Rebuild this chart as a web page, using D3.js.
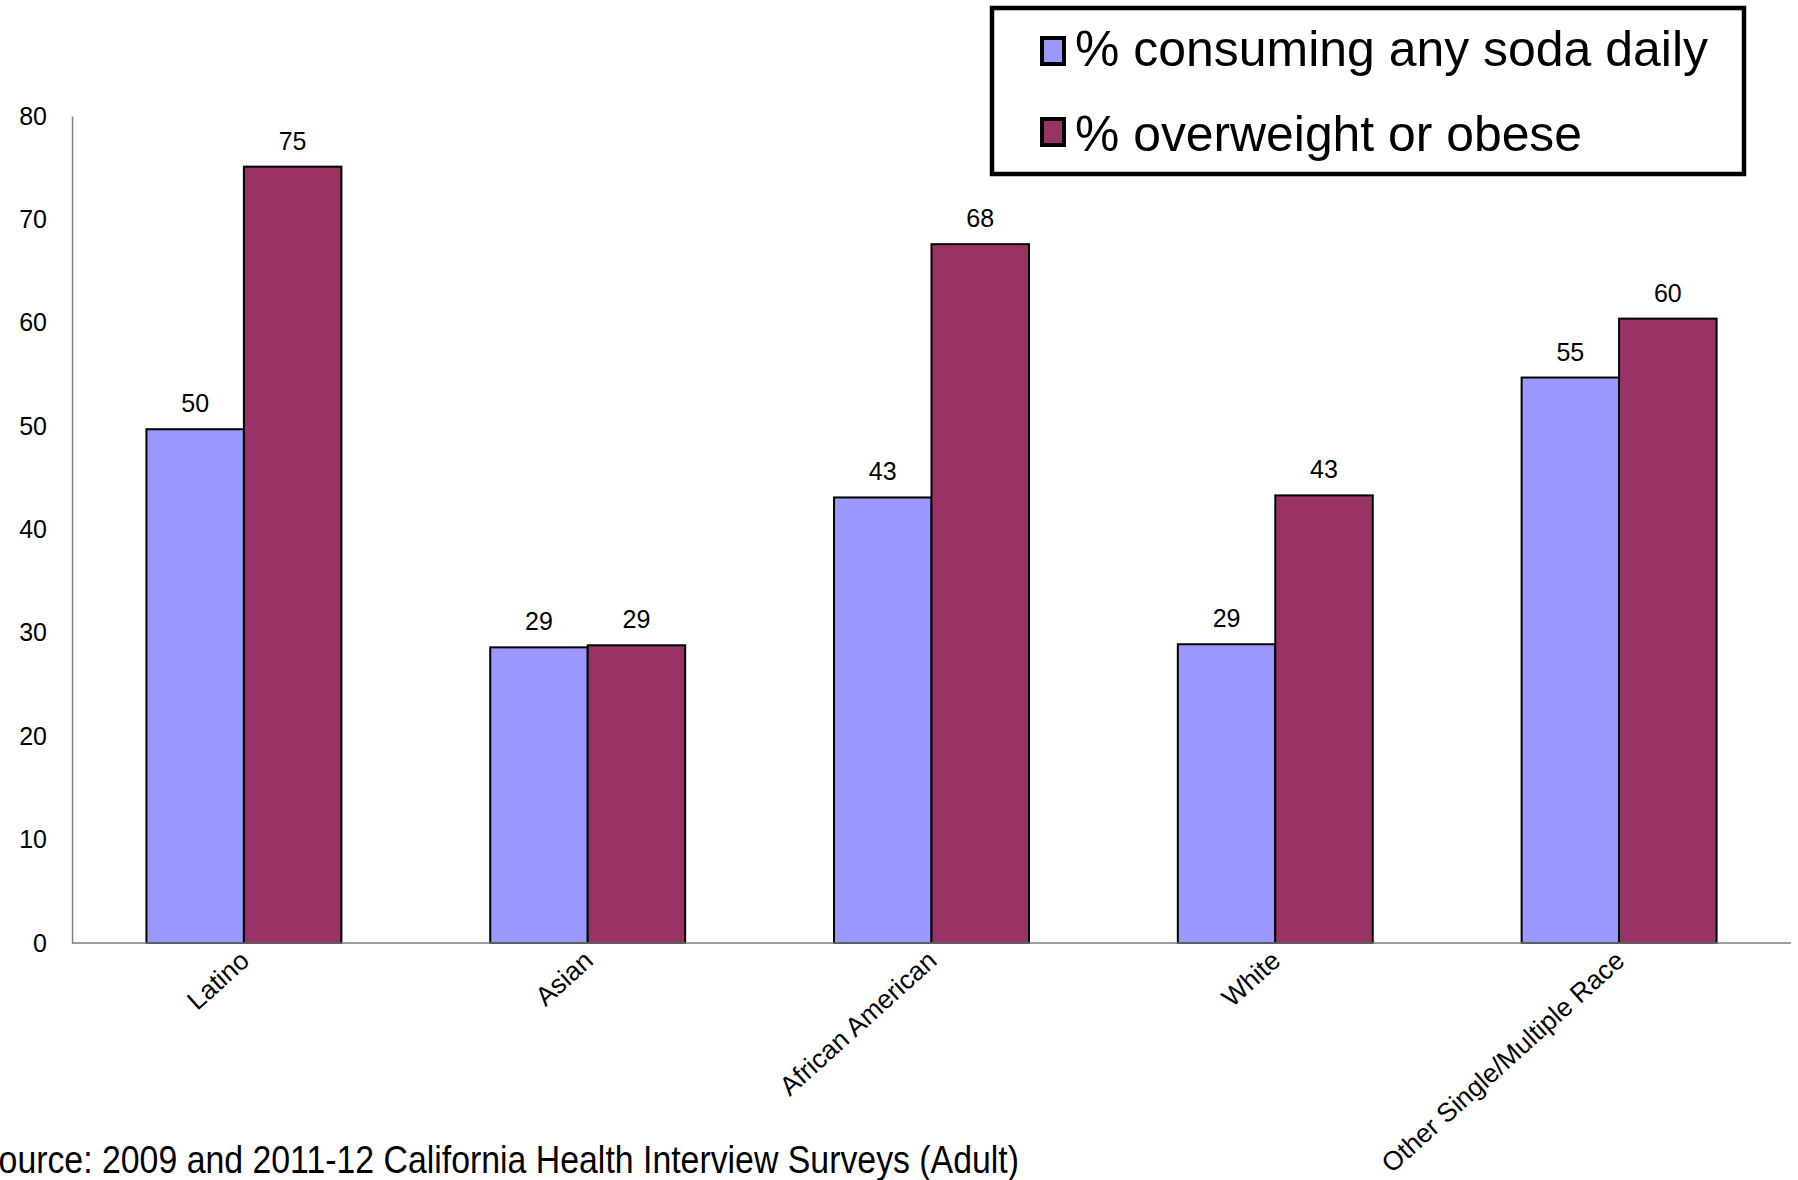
<!DOCTYPE html>
<html>
<head>
<meta charset="utf-8">
<script src="https://cdn.jsdelivr.net/npm/d3@7"></script>
<style>
  html, body { margin: 0; padding: 0; background: #fff; overflow: hidden; }
  svg { display: block; }
</style>
</head>
<body>
<svg id="chart" width="1798" height="1180"></svg>
<script>
const categories = ["Latino", "Asian", "African American", "White", "Other Single/Multiple Race"];
const seriesNames = ["% consuming any soda daily", "% overweight or obese"];
const sodaDaily = [49.7, 28.6, 43.1, 28.9, 54.7];
const overweightObese = [75.1, 28.8, 67.6, 43.3, 60.4];
const yTicks = [0, 10, 20, 30, 40, 50, 60, 70, 80];
const sourceNote = "Source: 2009 and 2011-12 California Health Interview Surveys (Adult)";

const seriesColors = ["#9999ff", "#993366"];
const seriesValues = [sodaDaily, overweightObese];

const rows = categories.map((category, index) => ({
  category,
  values: seriesValues.map((values, seriesIndex) => ({
    series: seriesIndex,
    value: values[index],
  })),
}));

const svg = d3.select("#chart");
const plotLeft = 72;
const plotRight = 1791;
const plotTop = 116;
const plotBottom = 943;

const xScale = d3
  .scaleBand()
  .domain(categories)
  .range([plotLeft, plotRight])
  .paddingInner(0.433)
  .paddingOuter(0.2165);

const xSeries = d3
  .scaleBand()
  .domain(d3.range(seriesNames.length))
  .range([0, xScale.bandwidth()]);

const yScale = d3.scaleLinear().domain([0, 80]).range([plotBottom, plotTop]);

const labelFont = "'Liberation Sans', Arial, sans-serif";

// y axis: labels only, plus a plain grey line
const yAxis = svg
  .append("g")
  .attr("transform", `translate(${plotLeft},0)`)
  .call(d3.axisLeft(yScale).tickValues(yTicks).tickSize(0).tickPadding(25));

yAxis.select(".domain").attr("stroke", "#7f7f7f").attr("stroke-width", 1.5);
yAxis
  .selectAll("text")
  .attr("font-family", labelFont)
  .attr("font-size", 25)
  .attr("fill", "#000");

const groups = svg
  .append("g")
  .selectAll("g")
  .data(rows)
  .enter()
  .append("g")
  .attr("transform", (row) => `translate(${xScale(row.category)},0)`);

groups
  .selectAll("rect")
  .data((row) => row.values)
  .enter()
  .append("rect")
  .attr("x", (d) => xSeries(d.series))
  .attr("y", (d) => yScale(d.value))
  .attr("width", xSeries.bandwidth())
  .attr("height", (d) => yScale(0) - yScale(d.value))
  .attr("fill", (d) => seriesColors[d.series])
  .attr("stroke", "#000")
  .attr("stroke-width", 2);

groups
  .selectAll("text.value")
  .data((row) => row.values)
  .enter()
  .append("text")
  .attr("class", "value")
  .attr("x", (d) => xSeries(d.series) + xSeries.bandwidth() / 2)
  .attr("y", (d) => yScale(d.value) - 17)
  .attr("text-anchor", "middle")
  .attr("font-family", labelFont)
  .attr("font-size", 25)
  .text((d) => d3.format(".0f")(d.value));

// x axis baseline
const xAxis = svg
  .append("g")
  .attr("transform", `translate(0,${plotBottom})`)
  .call(d3.axisBottom(xScale).tickSize(0).tickSizeOuter(0).tickFormat(""));

xAxis
  .select(".domain")
  .attr("stroke", "#7f7f7f")
  .attr("stroke-width", 1.5)
  .attr("d", `M${plotLeft},0H${plotRight}`);

svg
  .append("g")
  .selectAll("text")
  .data(categories)
  .enter()
  .append("text")
  .attr(
    "transform",
    (category) =>
      `translate(${xScale(category) + xScale.bandwidth() / 2 + 7},${plotBottom + 20}) rotate(-42)`
  )
  .attr("text-anchor", "end")
  .attr("font-family", labelFont)
  .attr("font-size", 26.5)
  .text((category) => category);

// legend
const legend = svg.append("g");

legend
  .append("rect")
  .attr("x", 992)
  .attr("y", 8)
  .attr("width", 752)
  .attr("height", 166)
  .attr("fill", "#fff")
  .attr("stroke", "#000")
  .attr("stroke-width", 4.5);

const legendItems = legend
  .selectAll("g")
  .data(seriesNames)
  .enter()
  .append("g")
  .attr("transform", (name, index) => `translate(1042,${38 + index * 81})`);

legendItems
  .append("rect")
  .attr("width", 22)
  .attr("height", 26)
  .attr("fill", (name, index) => seriesColors[index])
  .attr("stroke", "#000")
  .attr("stroke-width", 4);

const legendTextWidths = [633, 507];

legendItems
  .append("text")
  .attr("x", 33)
  .attr("y", (name, index) => 28 + index * 4)
  .attr("font-family", labelFont)
  .attr("font-size", 50)
  .attr("textLength", (name, index) => legendTextWidths[index])
  .attr("lengthAdjust", "spacingAndGlyphs")
  .text((name) => name);

// source note, cut off at the left edge as in the original
svg
  .append("text")
  .attr("x", -24)
  .attr("y", 1173)
  .attr("font-family", "'Liberation Sans Narrow', 'Arial Narrow', sans-serif")
  .attr("font-size", 39)
  .attr("textLength", 1043)
  .attr("lengthAdjust", "spacingAndGlyphs")
  .text(sourceNote);
</script>
</body>
</html>
